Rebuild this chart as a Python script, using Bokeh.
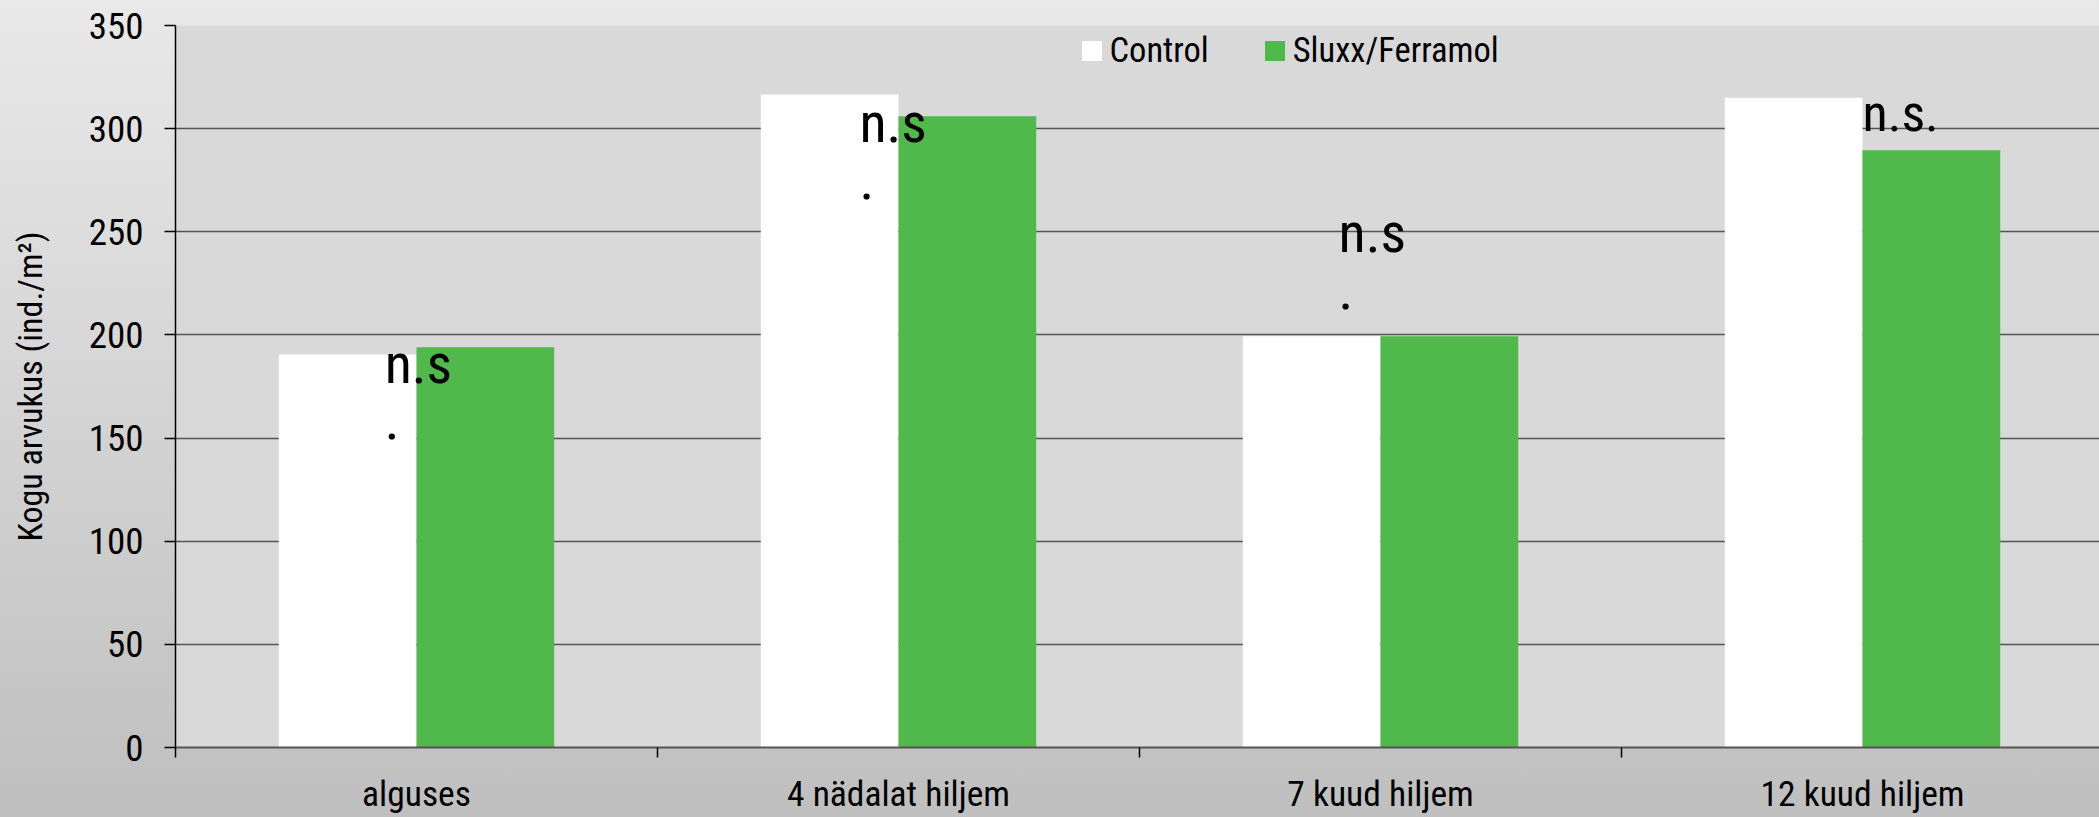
from bokeh.plotting import figure
from bokeh.models import Range1d, FixedTicker, Legend, LegendItem, ColumnDataSource
from bokeh.core.properties import value
from bokeh.embed import file_html
from bokeh.resources import INLINE

# ---- data ----
categories = ["alguses", "4 nädalat hiljem", "7 kuud hiljem", "12 kuud hiljem"]
control = [190.5, 316.5, 199.3, 315.0]
sluxx = [194.0, 306.0, 199.3, 289.5]
series_names = ["Control", "Sluxx/Ferramol"]
y_ticks = [0, 50, 100, 150, 200, 250, 300, 350]
ns_labels = ["n.s\n.", "n.s\n.", "n.s\n.", "n.s."]

# annotation anchors (offset inside category, value axis)
ns_x_offset = [0.434, 0.419, 0.413, 0.500]
ns_y = [202.1, 318.6, 265.4, 322.0]
ns_size = ["56px", "56px", "56px", "52px"]

FONT = "'Roboto Condensed', 'Liberation Sans'"
W, H = 2099, 817

n = len(categories)
centers = [i + 0.5 for i in range(n)]
bar_w = 2.0 / 7.0

src = ColumnDataSource(dict(
    xc=[c - bar_w / 2 for c in centers],
    xs=[c + bar_w / 2 for c in centers],
    control=control,
    sluxx=sluxx,
))

p = figure(width=W, height=H,
           x_range=Range1d(0, (W - 175) / 482.0),
           y_range=Range1d(0, 350),
           output_backend="svg", toolbar_location=None,
           min_border_left=175, min_border_right=0,
           min_border_top=25, min_border_bottom=68)

p.styles = {"position": "fixed", "left": "0px", "top": "0px",
            "background": "linear-gradient(#e9e9e9, #bfbfbf)"}
p.border_fill_alpha = 0
p.background_fill_color = "#d9d9d9"
p.outline_line_color = None

r1 = p.vbar(x="xc", top="control", width=bar_w, bottom=0, source=src,
            fill_color="#ffffff", line_color=None)
r2 = p.vbar(x="xs", top="sluxx", width=bar_w, bottom=0, source=src,
            fill_color="#51b84b", line_color=None)

# n.s. annotations
tsrc = ColumnDataSource(dict(
    x=[i + o for i, o in zip(range(n), ns_x_offset)],
    y=ns_y, text=ns_labels, size=ns_size))
p.text(x="x", y="y", text="text", source=tsrc,
       text_font=value(FONT), text_font_size="size",
       text_align="left", text_baseline="top", text_line_height=0.86,
       text_color="#000000")

# y axis
yax = p.yaxis[0]
yax.ticker = FixedTicker(ticks=y_ticks)
yax.axis_label = "Kogu arvukus (ind./m²)"
yax.axis_label_text_font = FONT
yax.axis_label_text_font_size = "34px"
yax.axis_label_text_font_style = "normal"
yax.axis_label_text_color = "#000000"
yax.axis_label_standoff = 36
yax.major_label_text_font = FONT
yax.major_label_text_font_size = "37px"
yax.major_label_text_color = "#000000"
yax.major_label_standoff = 21
yax.major_tick_out = 11
yax.major_tick_in = 0
yax.minor_tick_out = 0
yax.minor_tick_in = 0
yax.major_tick_line_color = "#000000"
yax.major_tick_line_width = 1.5
yax.axis_line_color = "#000000"
yax.axis_line_width = 1.5

# x axis
xax = p.xaxis[0]
xax.ticker = FixedTicker(ticks=centers, minor_ticks=list(range(n)))
xax.major_label_overrides = {c: lab for c, lab in zip(centers, categories)}
xax.major_label_text_font = FONT
xax.major_label_text_font_size = "35.5px"
xax.major_label_text_color = "#000000"
xax.major_label_standoff = 15
xax.major_tick_out = 0
xax.major_tick_in = 0
xax.minor_tick_out = 10
xax.minor_tick_in = 0
xax.minor_tick_line_color = "#000000"
xax.minor_tick_line_width = 1.5
xax.axis_line_color = "#555555"
xax.axis_line_width = 2

p.xgrid.grid_line_color = None
p.ygrid.ticker = FixedTicker(ticks=y_ticks)
p.ygrid.grid_line_color = "#555555"
p.ygrid.grid_line_width = 1.5

legend = Legend(items=[LegendItem(label=series_names[0], renderers=[r1]),
                       LegendItem(label=series_names[1], renderers=[r2])],
                location=(903.5, 677), orientation="horizontal",
                background_fill_alpha=0, border_line_color=None,
                glyph_width=25, glyph_height=25, label_standoff=6,
                spacing=53, padding=0, margin=0,
                label_text_font=FONT, label_text_font_size="34.5px",
                label_text_color="#000000")
p.add_layout(legend)

open("out.html", "w").write(file_html(p, INLINE))
